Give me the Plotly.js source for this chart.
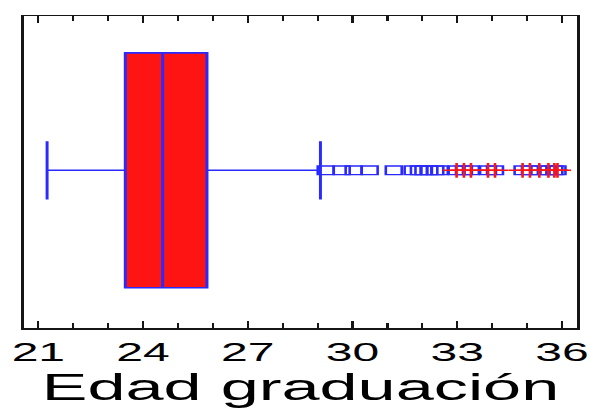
<!DOCTYPE html>
<html>
<head>
<meta charset="utf-8">
<script src="https://cdn.plot.ly/plotly-3.0.1.min.js"></script>
<style>
  html, body { margin: 0; padding: 0; background: #ffffff; overflow: hidden; }
  #wrap { width: 590px; height: 408px; overflow: hidden; }
  #plot { width: 319px; height: 408px; transform: scaleX(1.8495); transform-origin: 0 0; }
</style>
</head>
<body>
<div id="wrap"><div id="plot"></div></div>
<script>
// ---- data (Edad graduación) ----
const boxPosition = [0];
const q1Values = [23.49];
const medianValues = [24.56];
const q3Values = [25.83];
const lowerWhisker = [21.25];
const upperWhisker = [29.08];
// outside points (open squares)
const outsidePoints = [29.23, 29.69, 30.03, 30.49, 31.18, 31.72, 31.90, 32.03, 32.20, 32.37, 32.50];
// far outside points (squares with a plus sign)
const farOutsidePoints = [32.98, 33.19, 33.39, 33.88, 34.08, 34.87, 35.08, 35.35, 35.61, 35.78, 35.87];
const xTickValues = [21, 24, 27, 30, 33, 36];
const xTickLabels = ['21', '24', '27', '30', '33', '36'];
const axisTitle = 'Edad graduación';

const allOutliers = outsidePoints.concat(farOutsidePoints);
const FONT = 'Liberation Sans, Arial, sans-serif';
const BLUE = '#2a2aff';
const RED = '#ff1414';
const FRAME = '#151515';

const traces = [
  {
    type: 'box',
    orientation: 'h',
    y: boxPosition,
    q1: q1Values,
    median: medianValues,
    q3: q3Values,
    lowerfence: lowerWhisker,
    upperfence: upperWhisker,
    width: 0.753,
    whiskerwidth: 0.248,
    fillcolor: RED,
    line: { color: BLUE, width: 1.6 },
    boxpoints: false,
    hoverinfo: 'skip',
    showlegend: false
  },
  {
    type: 'scatter',
    mode: 'markers',
    x: allOutliers,
    y: allOutliers.map(function () { return boxPosition[0]; }),
    marker: { symbol: 'square-open', size: 8.6, color: BLUE, line: { color: BLUE, width: 1.4 } },
    hoverinfo: 'skip',
    showlegend: false
  },
  {
    type: 'scatter',
    mode: 'markers',
    x: farOutsidePoints,
    y: farOutsidePoints.map(function () { return boxPosition[0]; }),
    marker: { symbol: 'cross-thin-open', size: 10.5, color: RED, line: { color: RED, width: 1.4 } },
    hoverinfo: 'skip',
    showlegend: false
  }
];

const layout = {
  width: 319,
  height: 408,
  margin: { l: 13, r: 7, t: 16, b: 80, pad: 0 },
  paper_bgcolor: '#ffffff',
  plot_bgcolor: '#ffffff',
  showlegend: false,
  font: { family: FONT, color: '#000000' },
  xaxis: {
    range: [20.59, 36.43],
    tickmode: 'array',
    tickvals: xTickValues,
    ticktext: xTickLabels,
    ticks: 'inside',
    ticklen: 7,
    tickwidth: 1.2,
    tickcolor: FRAME,
    minor: { dtick: 1, tick0: 21, ticks: 'inside', ticklen: 5, tickwidth: 1.2, tickcolor: FRAME, showgrid: false },
    showline: true,
    linewidth: 1.5,
    linecolor: FRAME,
    mirror: 'allticks',
    showgrid: false,
    zeroline: false,
    tickfont: { family: FONT, size: 26, color: '#000000' },
    title: { text: axisTitle, font: { family: FONT, size: 37, color: '#000000' }, standoff: 9 }
  },
  yaxis: {
    range: [-0.5054, 0.4946],
    showline: true,
    linewidth: 1.5,
    linecolor: FRAME,
    mirror: true,
    ticks: '',
    showticklabels: false,
    showgrid: false,
    zeroline: false
  }
};

Plotly.newPlot('plot', traces, layout, { displayModeBar: false, staticPlot: true, responsive: false });
</script>
</body>
</html>
